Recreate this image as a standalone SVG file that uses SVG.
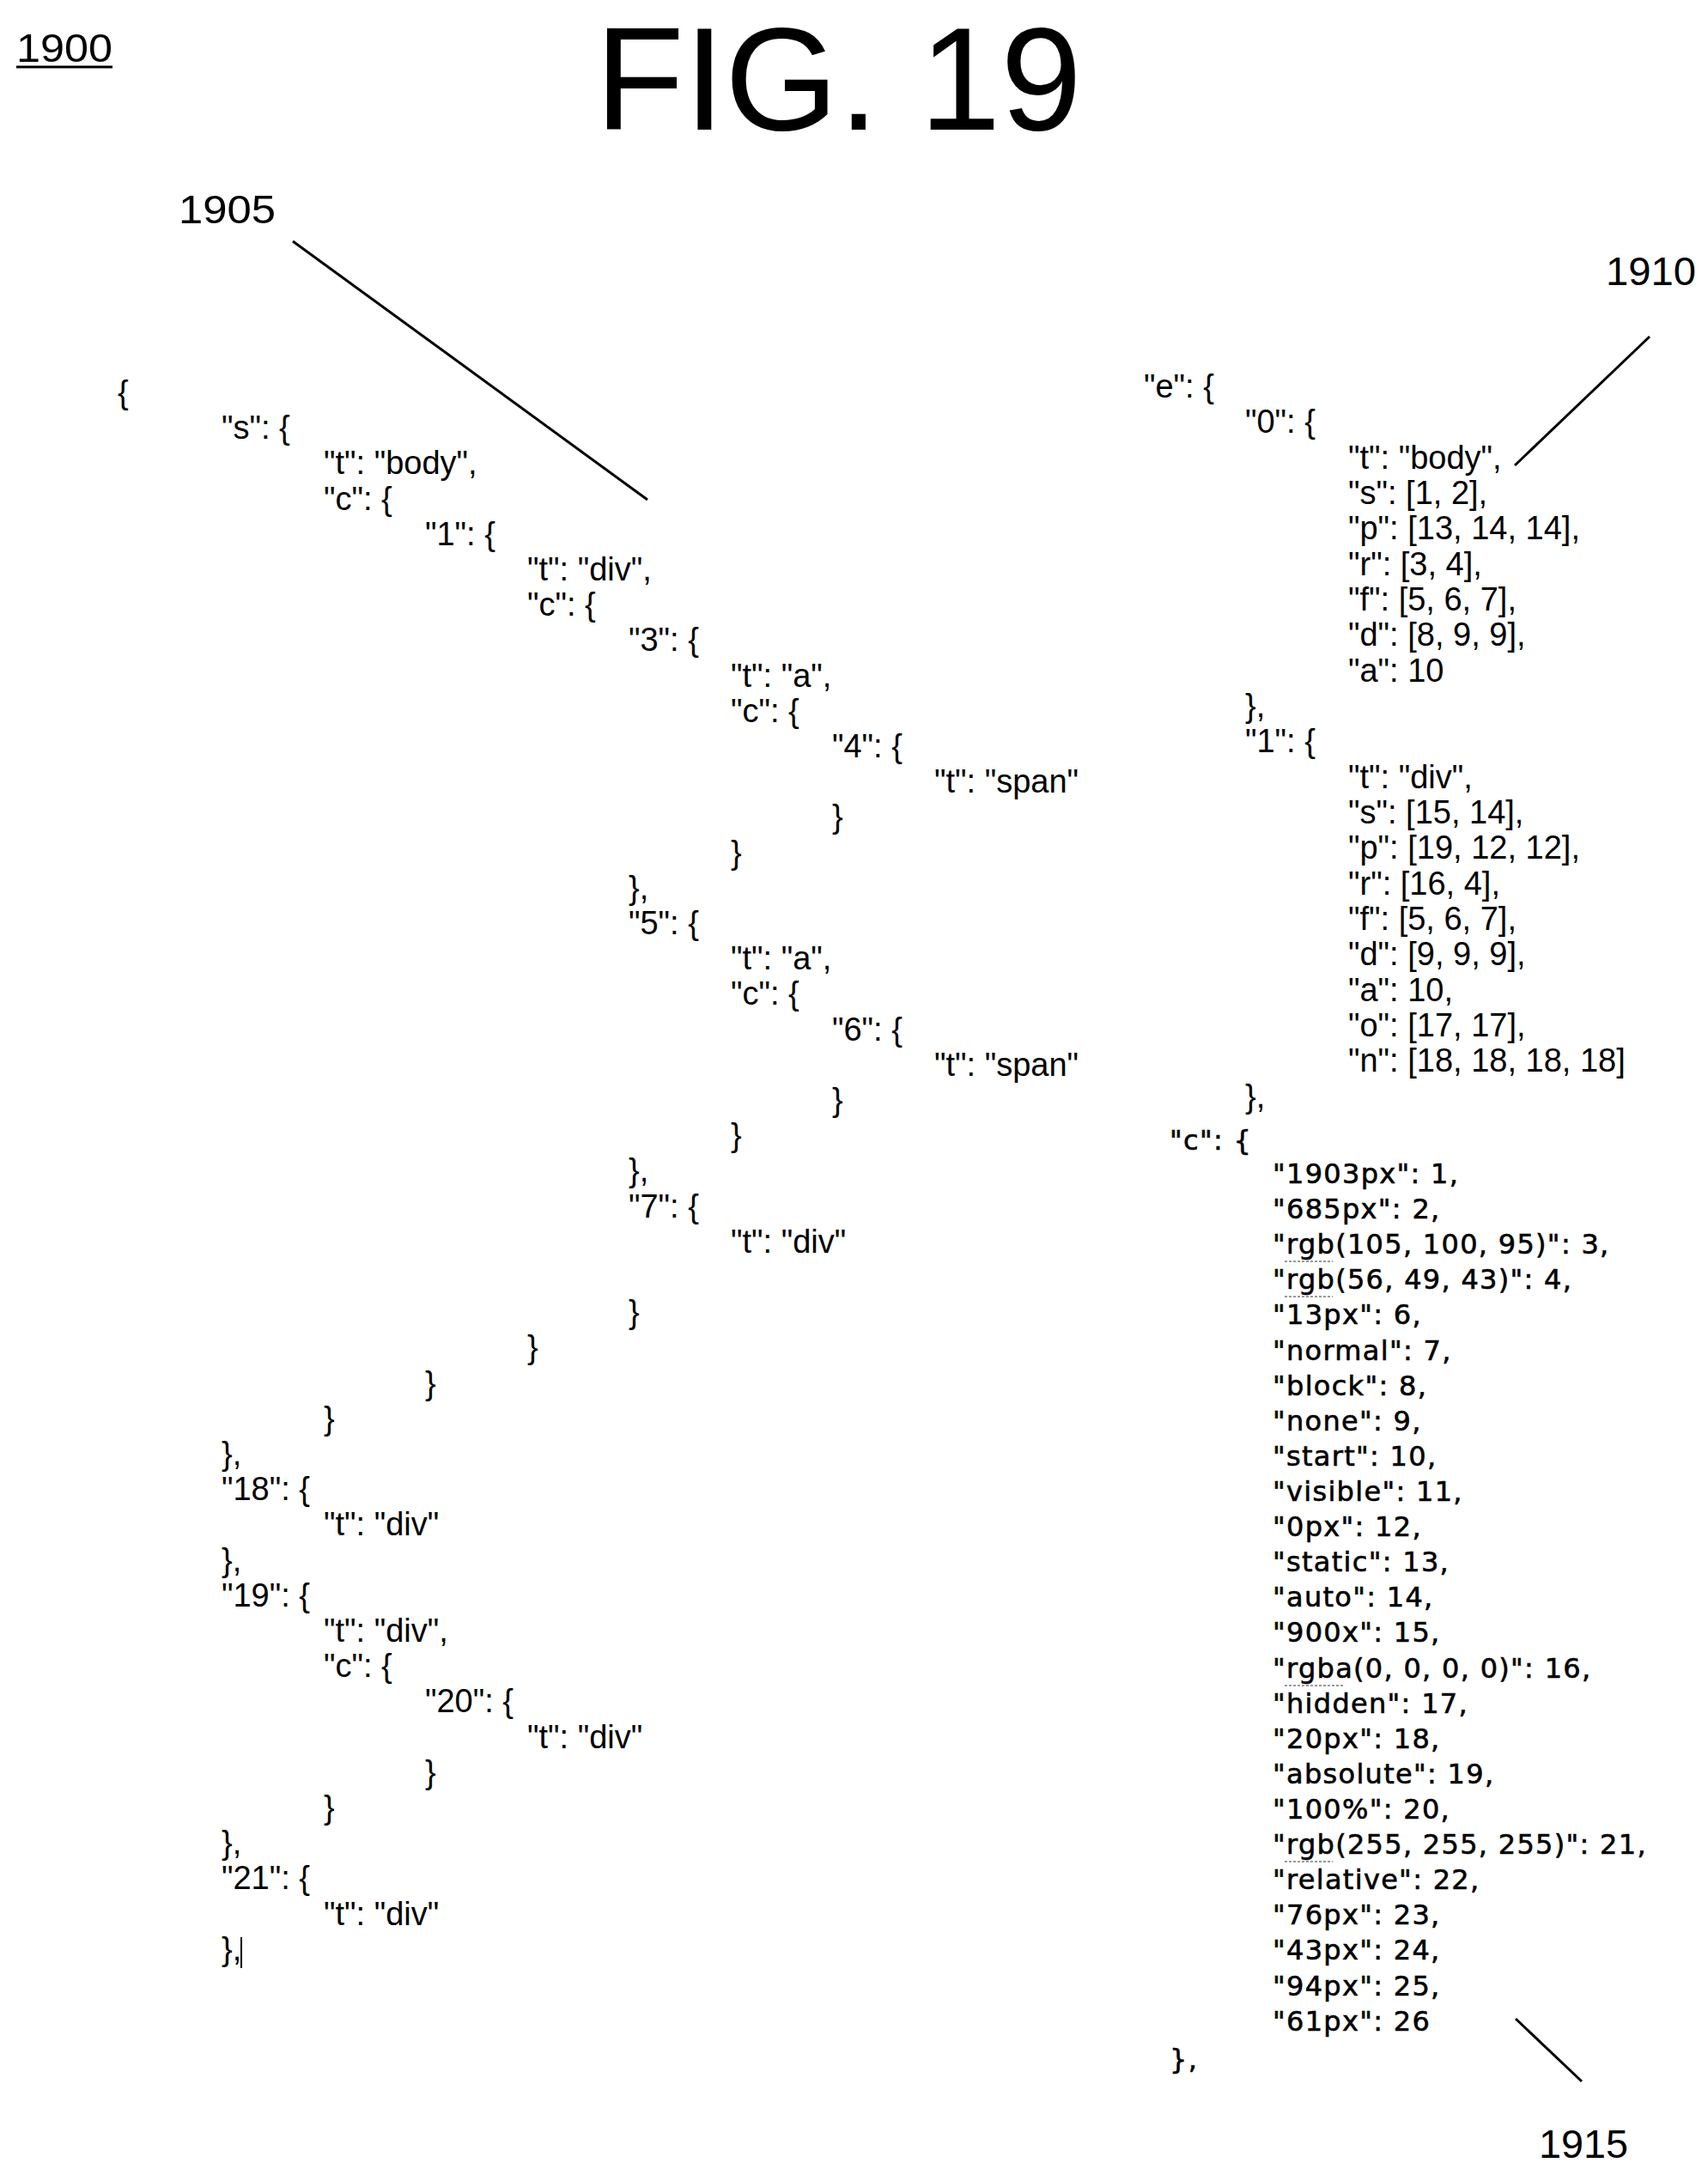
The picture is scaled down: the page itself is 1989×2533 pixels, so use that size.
<svg xmlns="http://www.w3.org/2000/svg" width="1989" height="2533" viewBox="0 0 1989 2533">
<style>
.c{font-family:"Liberation Sans",Arial,sans-serif;font-size:38px;fill:#000}
.d{font-family:"DejaVu Sans","Liberation Sans",sans-serif;font-size:32px;letter-spacing:1.3px;fill:#000;stroke:#000;stroke-width:0.6px}
.l{font-family:"Liberation Sans",Arial,sans-serif;font-size:46px;fill:#000}
.ld{stroke:#000;stroke-width:3;fill:none}
.sq{stroke:#999;stroke-width:2;fill:none;stroke-dasharray:3 2}
</style>
<rect width="1989" height="2533" fill="#fff"/>
<g id="title">
<text x="693" y="151" font-family="Liberation Sans,Arial,sans-serif" font-size="170">FIG. 19</text>
<text x="19" y="72" class="l" textLength="112" lengthAdjust="spacingAndGlyphs">1900</text>
<line x1="19" y1="78" x2="131" y2="78" stroke="#000" stroke-width="3"/>
</g>
<g id="labels">
<text x="208" y="260" class="l" textLength="113" lengthAdjust="spacingAndGlyphs">1905</text>
<text x="1870" y="332" class="l" textLength="105" lengthAdjust="spacingAndGlyphs">1910</text>
<text x="1792" y="2513" class="l" textLength="104" lengthAdjust="spacingAndGlyphs">1915</text>
</g>
<g id="connectors">
<line class="ld" x1="341" y1="281" x2="754" y2="582"/>
<line class="ld" x1="1921" y1="392" x2="1764" y2="542"/>
<line class="ld" x1="1765" y1="2351" x2="1842" y2="2424"/>
</g>
<g id="left-code" class="c">
<text x="137" y="470">{</text>
<text x="258" y="511">"s": {</text>
<text x="377" y="552">"t": "body",</text>
<text x="377" y="594">"c": {</text>
<text x="495" y="635">"1": {</text>
<text x="614" y="676">"t": "div",</text>
<text x="614" y="717">"c": {</text>
<text x="732" y="758">"3": {</text>
<text x="851" y="800">"t": "a",</text>
<text x="851" y="841">"c": {</text>
<text x="969" y="882">"4": {</text>
<text x="1088" y="923">"t": "span"</text>
<text x="969" y="964">}</text>
<text x="851" y="1006">}</text>
<text x="732" y="1047">},</text>
<text x="732" y="1088">"5": {</text>
<text x="851" y="1129">"t": "a",</text>
<text x="851" y="1170">"c": {</text>
<text x="969" y="1212">"6": {</text>
<text x="1088" y="1253">"t": "span"</text>
<text x="969" y="1294">}</text>
<text x="851" y="1335">}</text>
<text x="732" y="1376">},</text>
<text x="732" y="1418">"7": {</text>
<text x="851" y="1459">"t": "div"</text>
<text x="732" y="1541">}</text>
<text x="614" y="1582">}</text>
<text x="495" y="1624">}</text>
<text x="377" y="1665">}</text>
<text x="258" y="1706">},</text>
<text x="258" y="1747">"18": {</text>
<text x="377" y="1788">"t": "div"</text>
<text x="258" y="1830">},</text>
<text x="258" y="1871">"19": {</text>
<text x="377" y="1912">"t": "div",</text>
<text x="377" y="1953">"c": {</text>
<text x="495" y="1994">"20": {</text>
<text x="614" y="2036">"t": "div"</text>
<text x="495" y="2077">}</text>
<text x="377" y="2118">}</text>
<text x="258" y="2159">},</text>
<text x="258" y="2200">"21": {</text>
<text x="377" y="2242">"t": "div"</text>
<text x="258" y="2283">},</text>
<line x1="281" y1="2256" x2="281" y2="2292" stroke="#000" stroke-width="2"/>
</g>
<g id="right-elements" class="c">
<text x="1332" y="463">"e": {</text>
<text x="1450" y="504">"0": {</text>
<text x="1570" y="546">"t": "body",</text>
<text x="1570" y="587">"s": [1, 2],</text>
<text x="1570" y="628">"p": [13, 14, 14],</text>
<text x="1570" y="670">"r": [3, 4],</text>
<text x="1570" y="711">"f": [5, 6, 7],</text>
<text x="1570" y="752">"d": [8, 9, 9],</text>
<text x="1570" y="794">"a": 10</text>
<text x="1450" y="835">},</text>
<text x="1450" y="876">"1": {</text>
<text x="1570" y="918">"t": "div",</text>
<text x="1570" y="959">"s": [15, 14],</text>
<text x="1570" y="1000">"p": [19, 12, 12],</text>
<text x="1570" y="1042">"r": [16, 4],</text>
<text x="1570" y="1083">"f": [5, 6, 7],</text>
<text x="1570" y="1124">"d": [9, 9, 9],</text>
<text x="1570" y="1166">"a": 10,</text>
<text x="1570" y="1207">"o": [17, 17],</text>
<text x="1570" y="1248">"n": [18, 18, 18, 18]</text>
<text x="1450" y="1290">},</text>
</g>
<g id="right-dictionary" class="d">
<text x="1362" y="1339">"c": {</text>
<text x="1482" y="1378">"1903px": 1,</text>
<text x="1482" y="1419">"685px": 2,</text>
<text x="1482" y="1460">"rgb(105, 100, 95)": 3,</text>
<text x="1482" y="1501">"rgb(56, 49, 43)": 4,</text>
<text x="1482" y="1542">"13px": 6,</text>
<text x="1482" y="1584">"normal": 7,</text>
<text x="1482" y="1625">"block": 8,</text>
<text x="1482" y="1666">"none": 9,</text>
<text x="1482" y="1707">"start": 10,</text>
<text x="1482" y="1748">"visible": 11,</text>
<text x="1482" y="1789">"0px": 12,</text>
<text x="1482" y="1830">"static": 13,</text>
<text x="1482" y="1871">"auto": 14,</text>
<text x="1482" y="1912">"900x": 15,</text>
<text x="1482" y="1954">"rgba(0, 0, 0, 0)": 16,</text>
<text x="1482" y="1995">"hidden": 17,</text>
<text x="1482" y="2036">"20px": 18,</text>
<text x="1482" y="2077">"absolute": 19,</text>
<text x="1482" y="2118">"100%": 20,</text>
<text x="1482" y="2159">"rgb(255, 255, 255)": 21,</text>
<text x="1482" y="2200">"relative": 22,</text>
<text x="1482" y="2241">"76px": 23,</text>
<text x="1482" y="2282">"43px": 24,</text>
<text x="1482" y="2324">"94px": 25,</text>
<text x="1482" y="2365">"61px": 26</text>
<text x="1362" y="2409">},</text>
<path class="sq" d="M1496 1469h56M1496 1510h56M1496 1963h70M1496 2168h56"/>
</g>
</svg>
